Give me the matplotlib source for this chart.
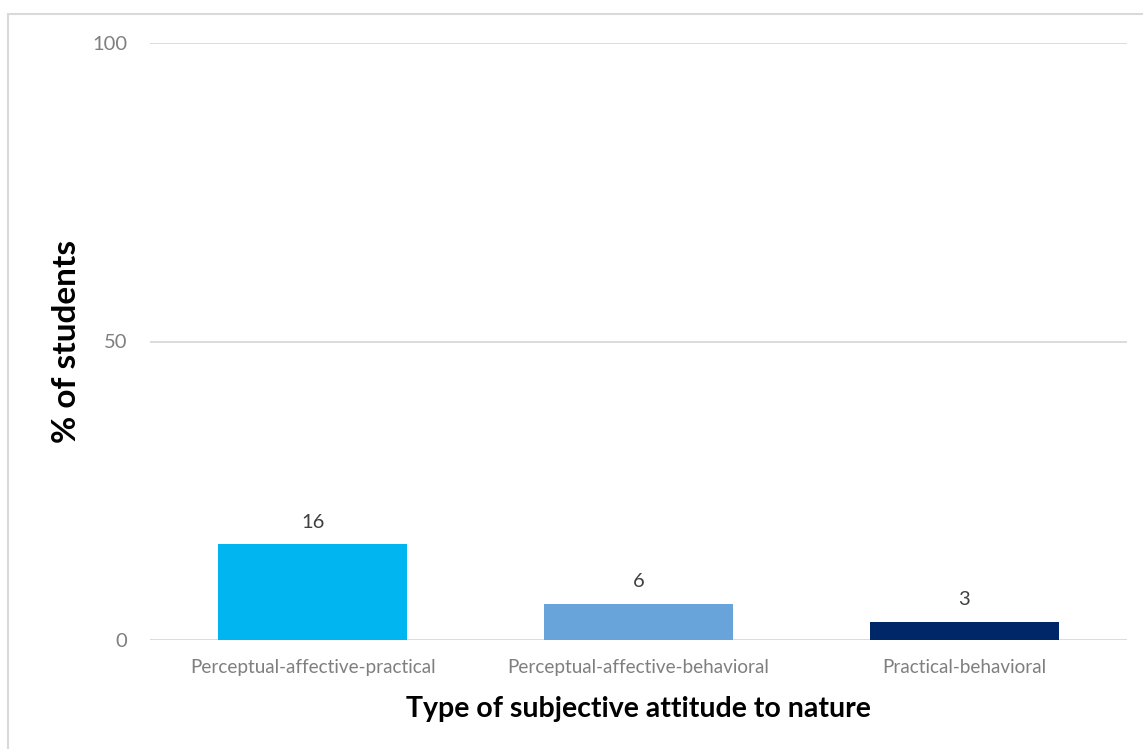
import matplotlib
matplotlib.use("Agg")
import matplotlib.pyplot as plt
from matplotlib.patches import Rectangle

categories = ["Perceptual-affective-practical", "Perceptual-affective-behavioral", "Practical-behavioral"]
values = [16, 6, 3]
colors = ["#00B5F0", "#68A4DA", "#002868"]
yticks = [0, 50, 100]

plt.rcParams["font.family"] = ["Lato", "DejaVu Sans"]

fig = plt.figure(figsize=(11.43, 7.49), dpi=100)
fig.patches.append(Rectangle((8 / 1143, -0.01), 1.2, 1 - 14 / 749 + 0.01,
                             transform=fig.transFigure, fill=False,
                             edgecolor="#D9D9D9", linewidth=1.5))

ax = fig.add_axes([150 / 1143, 1 - 640 / 749, 977 / 1143, 597 / 749])
x = range(len(categories))
bars = ax.bar(x, values, width=0.58, color=colors, zorder=3)
for b, v in zip(bars, values):
    ax.annotate(str(v), (b.get_x() + b.get_width() / 2, v), xytext=(0, 10),
                textcoords="offset points", ha="center", va="bottom",
                fontsize=14.5, color="#404040")

ax.set_xlim(-0.5, len(categories) - 0.5)
ax.set_ylim(0, 100)
ax.set_yticks(yticks)
ax.set_xticks(list(x))
ax.set_xticklabels(categories, fontsize=13.6)
ax.grid(axis="y", color="#D9D9D9", linewidth=1.3, zorder=0)
for s in ax.spines.values():
    s.set_visible(False)
ax.tick_params(axis="both", length=0, labelcolor="#7F7F7F")
ax.tick_params(axis="y", pad=16.5, labelsize=14.5)
ax.tick_params(axis="x", pad=14)

ax.set_xlabel("Type of subjective attitude to nature", fontsize=20.5, fontweight="bold",
              color="#000000", labelpad=14)
ax.set_ylabel("% of students", fontsize=24, fontweight="bold", color="#000000", labelpad=8)

fig.savefig("out.png", dpi=100)
